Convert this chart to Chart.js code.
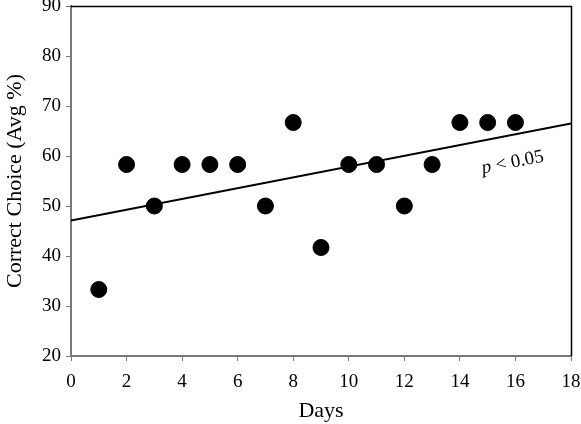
<!DOCTYPE html>
<html><head><meta charset="utf-8">
<script src="https://cdn.jsdelivr.net/npm/chart.js@4/dist/chart.umd.min.js"></script>
<style>html,body{margin:0;padding:0;background:#fff;}#wrap{width:581px;height:424px;}</style>
</head><body><div id="wrap"><canvas id="c" width="581" height="424"></canvas></div>
<script>
const days = [1,2,3,4,5,6,7,8,9,10,11,12,13,14,15,16];
const correctPct = [33.3,58.3,50,58.3,58.3,58.3,50,66.7,41.7,58.3,58.3,50,58.3,66.7,66.7,66.7];
const trendX = [0,18];
const trendY = [47.1,66.5];
const xTicks = [0,2,4,6,8,10,12,14,16,18];
const yTicks = [20,30,40,50,60,70,80,90];
const annotation = {x:15.9, y:58.7, text:'< 0.05', italic:'p'};

const serif = "'Liberation Serif','Times New Roman',serif";
const framePlugin = {
  id:'frame',
  afterDraw(chart){
    const {ctx, chartArea:a, scales} = chart;
    ctx.save();
    ctx.strokeStyle='#000'; ctx.lineWidth=1.5;
    ctx.beginPath();
    ctx.moveTo(a.left, a.top+0.5); ctx.lineTo(a.right+0.5, a.top+0.5); ctx.lineTo(a.right+0.5, a.bottom);
    ctx.stroke();
    const px = scales.x.getPixelForValue(annotation.x), py = scales.y.getPixelForValue(annotation.y);
    ctx.translate(px, py);
    ctx.rotate(-11*Math.PI/180);
    ctx.fillStyle='#000'; ctx.textBaseline='middle';
    ctx.font = "italic 19px "+serif;
    const w1 = ctx.measureText(annotation.italic+' ').width;
    ctx.font = "19px "+serif;
    const w2 = ctx.measureText(annotation.text).width;
    const start = -(w1+w2)/2;
    ctx.font = "italic 19px "+serif;
    ctx.textAlign='left';
    ctx.fillText(annotation.italic, start, 0);
    ctx.font = "19px "+serif;
    ctx.fillText(annotation.text, start+w1, 0);
    ctx.restore();
  }
};

new Chart(document.getElementById('c'), {
  type:'scatter',
  data:{datasets:[
    {data: days.map((d,i)=>({x:d,y:correctPct[i]})), backgroundColor:'#000', borderColor:'#000', pointRadius:8, pointHoverRadius:8, order:1},
    {type:'line', data: trendX.map((d,i)=>({x:d,y:trendY[i]})), borderColor:'#000', borderWidth:2, pointRadius:0, showLine:true, fill:false, order:2}
  ]},
  options:{
    responsive:false, animation:false,
    layout:{autoPadding:false, padding:{top:6,right:10,left:0,bottom:0}},
    plugins:{legend:{display:false}, tooltip:{enabled:false}},
    scales:{
      x:{type:'linear', min:0, max:18,
        afterBuildTicks(s){ s.ticks = xTicks.map(v=>({value:v})); },
        afterFit(s){ s.height = 68; s.paddingLeft = 0; s.paddingRight = 0; },
        grid:{drawOnChartArea:false, tickLength:5, color:'#777', tickColor:'#777'},
        border:{color:'#777', width:2},
        ticks:{color:'#000', font:{family:serif, size:19}, padding:10, maxRotation:0},
        title:{display:true, text:'Days', color:'#000', font:{family:serif, size:22}, padding:{top:0, bottom:0}}
      },
      y:{type:'linear', min:20, max:90,
        afterBuildTicks(s){ s.ticks = yTicks.map(v=>({value:v})); },
        afterFit(s){ s.width = 71; s.paddingTop = 0; s.paddingBottom = 0; },
        grid:{drawOnChartArea:false, tickLength:5, color:'#777', tickColor:'#777'},
        border:{color:'#777', width:2},
        ticks:{color:'#000', font:{family:serif, size:19}, padding:5},
        title:{display:true, text:'Correct Choice (Avg %)', color:'#000', font:{family:serif, size:22}, padding:{top:2, bottom:2}}
      }
    }
  },
  plugins:[framePlugin]
});
</script></body></html>
